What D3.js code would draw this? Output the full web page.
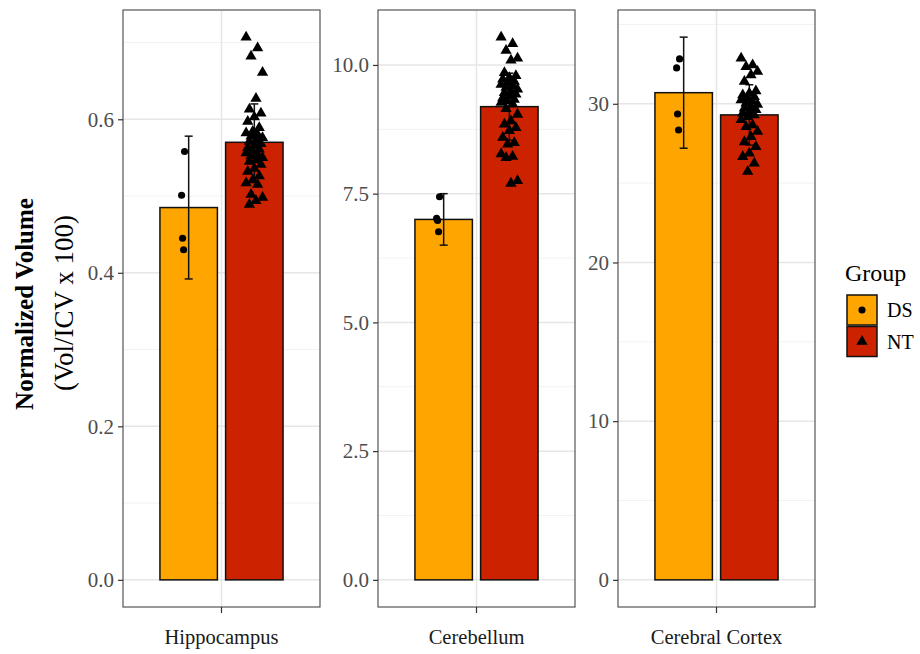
<!DOCTYPE html>
<html>
<head>
<meta charset="utf-8">
<script src="https://cdn.jsdelivr.net/npm/d3@7"></script>
<style>
  body { margin: 0; background: #fff; }
  text { font-family: "Liberation Serif", "DejaVu Serif", serif; }
</style>
</head>
<body>
<svg width="920" height="654"></svg>
<script>
// regions, one panel each
var regions = ["Hippocampus", "Cerebellum", "Cerebral Cortex"];
var groups = ["DS", "NT"];

// bar heights (group means) and error bar half-lengths (sd), per region: [DS, NT]
var means = [[0.485, 0.570], [7.00, 9.19], [30.7, 29.3]];
var sds = [[0.093, 0.050], [0.50, 0.65], [3.5, 1.9]];

// individual subjects
var hippoDS = [0.558, 0.501, 0.445, 0.430];
var hippoNT = [0.707, 0.693, 0.682, 0.661, 0.627, 0.613, 0.608, 0.603, 0.597, 0.589,
               0.584, 0.582, 0.580, 0.578, 0.576, 0.573, 0.571, 0.568, 0.566, 0.563,
               0.561, 0.558, 0.556, 0.554, 0.552, 0.550, 0.547, 0.545, 0.541, 0.536,
               0.532, 0.526, 0.521, 0.517, 0.515, 0.502, 0.498, 0.494, 0.489];
var cerebDS = [7.44, 7.02, 6.98, 6.76];
var cerebNT = [10.54, 10.41, 10.28, 10.13, 10.09, 9.85, 9.79, 9.75, 9.72, 9.68,
               9.66, 9.62, 9.59, 9.56, 9.53, 9.49, 9.46, 9.43, 9.40, 9.36,
               9.33, 9.30, 9.27, 9.24, 9.15, 9.04, 8.91, 8.85, 8.78, 8.72,
               8.59, 8.49, 8.46, 8.27, 8.22, 8.20, 7.75, 7.70];
var cortexDS = [32.83, 32.26, 29.36, 28.35];
var cortexNT = [32.87, 32.45, 32.34, 32.03, 31.82, 31.40, 30.80, 30.67, 30.55, 30.45,
                30.35, 30.24, 30.15, 30.04, 29.95, 29.82, 29.72, 29.62, 29.50, 29.41,
                29.30, 29.19, 29.00, 28.67, 28.56, 28.25, 27.93, 27.60, 27.30, 26.89,
                26.67, 26.26, 25.73];
var points = [[hippoDS, hippoNT], [cerebDS, cerebNT], [cortexDS, cortexNT]];

// y tick values and labels per panel
var yTicks = [[0, 0.2, 0.4, 0.6], [0, 2.5, 5, 7.5, 10], [0, 10, 20, 30]];
var yTickLabels = [["0.0", "0.2", "0.4", "0.6"], ["0.0", "2.5", "5.0", "7.5", "10.0"], ["0", "10", "20", "30"]];

var colors = {DS: "#FFA500", NT: "#CD2200"};

var svg = d3.select("svg");
var plotTop = 10, plotBottom = 607;
var panelLeft = [123, 378, 618], panelW = 197;

var color = d3.scaleOrdinal().domain(groups).range([colors.DS, colors.NT]);

regions.forEach(function(region, r) {
    var x0 = panelLeft[r];
    var x = d3.scaleLinear().domain([0.4, 1.6]).range([x0, x0 + panelW]);

    var maxV = d3.max([d3.max(points[r][0]), d3.max(points[r][1]),
                       means[r][0] + sds[r][0], means[r][1] + sds[r][1]]);
    var pad = maxV * 0.05;
    var y = d3.scaleLinear().domain([-pad, maxV + pad]).range([plotBottom, plotTop]);

    var g = svg.append("g");

    // grid: minor then major
    var ticks = yTicks[r];
    var step = ticks[1] - ticks[0];
    var minor = [];
    for (var v = ticks[0] - step / 2; v < maxV + pad; v += step) {
        if (v > -pad) minor.push(v);
    }
    g.selectAll(".minor").data(minor).enter().append("line")
        .attr("x1", x0).attr("x2", x0 + panelW)
        .attr("y1", d => y(d)).attr("y2", d => y(d))
        .attr("stroke", "#f2f2f2").attr("stroke-width", 1);
    g.selectAll(".major").data(ticks).enter().append("line")
        .attr("x1", x0).attr("x2", x0 + panelW)
        .attr("y1", d => y(d)).attr("y2", d => y(d))
        .attr("stroke", "#e6e6e6").attr("stroke-width", 1.5);
    g.append("line")
        .attr("x1", x(1)).attr("x2", x(1))
        .attr("y1", plotTop).attr("y2", plotBottom)
        .attr("stroke", "#e6e6e6").attr("stroke-width", 1.5);

    var gx = function(gi) { return 1 + (gi - 0.5) * 0.4; };
    var barW = 0.35;

    // bars
    groups.forEach(function(grp, gi) {
        g.append("rect")
            .attr("x", x(gx(gi) - barW / 2))
            .attr("width", x(gx(gi) + barW / 2) - x(gx(gi) - barW / 2))
            .attr("y", y(means[r][gi]))
            .attr("height", y(0) - y(means[r][gi]))
            .attr("fill", color(grp))
            .attr("stroke", "#111").attr("stroke-width", 1.5);
    });

    // error bars
    groups.forEach(function(grp, gi) {
        var cx = x(gx(gi)), hw = 4;
        var lo = y(means[r][gi] - sds[r][gi]), hi = y(means[r][gi] + sds[r][gi]);
        var eb = g.append("g").attr("stroke", "#111").attr("stroke-width", 1.5);
        eb.append("line").attr("x1", cx).attr("x2", cx).attr("y1", lo).attr("y2", hi);
        eb.append("line").attr("x1", cx - hw).attr("x2", cx + hw).attr("y1", lo).attr("y2", lo);
        eb.append("line").attr("x1", cx - hw).attr("x2", cx + hw).attr("y1", hi).attr("y2", hi);
    });

    // jittered points
    groups.forEach(function(grp, gi) {
        var sym = d3.symbol().type(gi === 0 ? d3.symbolCircle : d3.symbolTriangle).size(gi === 0 ? 40 : 55);
        g.selectAll(".pt" + gi).data(points[r][gi]).enter().append("path")
            .attr("d", sym)
            .attr("transform", function(d, i) {
                var j = gi === 0 ? -0.025 - ((i * 3) % 4) * 0.006 : (((i * 7) % 11) / 10 - 0.5) * 0.1;
                return "translate(" + x(gx(gi) + j) + "," + y(d) + ")";
            })
            .attr("fill", "#000");
    });

    // panel border
    g.append("rect")
        .attr("x", x0).attr("y", plotTop).attr("width", panelW).attr("height", plotBottom - plotTop)
        .attr("fill", "none").attr("stroke", "#555").attr("stroke-width", 1.2);

    // y axis
    var yAxis = d3.axisLeft(y).tickValues(ticks)
        .tickFormat(function(d, i) { return yTickLabels[r][i]; })
        .tickSize(5).tickPadding(4);
    var ya = svg.append("g").attr("transform", "translate(" + x0 + ",0)").call(yAxis);
    ya.select(".domain").remove();
    ya.selectAll(".tick line").attr("stroke", "#333").attr("stroke-width", 1.2);
    ya.selectAll(".tick text").attr("fill", "#4d4d4d").style("font-size", "21px")
        .style("font-family", "'Liberation Serif', serif");

    // x axis
    var xb = d3.scaleBand().domain([region]).range([x0, x0 + panelW]);
    var xAxis = d3.axisBottom(xb).tickSize(6).tickPadding(16);
    var xa = svg.append("g").attr("transform", "translate(0," + plotBottom + ")").call(xAxis);
    xa.select(".domain").remove();
    xa.selectAll(".tick line").attr("stroke", "#333").attr("stroke-width", 1.2);
    xa.selectAll(".tick text").attr("fill", "#1a1a1a").style("font-size", "20.5px")
        .style("font-family", "'Liberation Serif', serif");
});

// y axis title
svg.append("text")
    .attr("transform", "translate(33,304) rotate(-90)")
    .attr("text-anchor", "middle")
    .style("font-size", "25px").style("font-weight", "bold").attr("fill", "#000")
    .text("Normalized Volume");
svg.append("text")
    .attr("transform", "translate(73,303) rotate(-90)")
    .attr("text-anchor", "middle")
    .style("font-size", "27px").attr("fill", "#000")
    .text("(Vol/ICV x 100)");

// legend
var lg = svg.append("g").attr("transform", "translate(847,0)");
lg.append("text").attr("x", -2).attr("y", 281).style("font-size", "24px").attr("fill", "#000").text("Group");
groups.forEach(function(grp, gi) {
    var yy = 295 + gi * 31.5;
    lg.append("rect").attr("x", 0).attr("y", yy).attr("width", 30).attr("height", 30)
        .attr("fill", color(grp)).attr("stroke", "#111").attr("stroke-width", 1.5);
    lg.append("path")
        .attr("d", d3.symbol().type(gi === 0 ? d3.symbolCircle : d3.symbolTriangle).size(gi === 0 ? 40 : 55))
        .attr("transform", "translate(15," + (yy + 15) + ")").attr("fill", "#000");
    lg.append("text").attr("x", 40).attr("y", yy + 22).style("font-size", "20px").attr("fill", "#000").text(grp);
});
</script>
</body>
</html>
